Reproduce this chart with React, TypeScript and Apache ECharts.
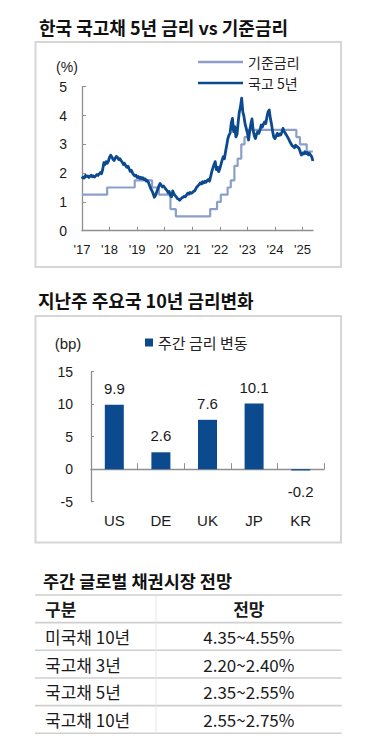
import React, { useEffect, useRef } from 'react';
import * as echarts from 'echarts';

// ---------- texts ----------
const TITLE_1 = '한국 국고채 5년 금리 vs 기준금리';
const TITLE_2 = '지난주 주요국 10년 금리변화';
const TITLE_3 = '주간 글로벌 채권시장 전망';
const UNIT_1 = '(%)';
const UNIT_2 = '(bp)';
const BASE_NAME = '기준금리';
const KTB_NAME = '국고 5년';
const BAR_NAME = '주간 금리 변동';

// ---------- chart 1: axis ticks ----------
const yearTicks = [2017, 2018, 2019, 2020, 2021, 2022, 2023, 2024, 2025];
const xStart = 2017;
const xEnd = 2025.38;

// ---------- chart 1: KTB 5Y yield, semi-monthly readings (%) ----------
const ktb5y2017 = [1.80, 1.86, 1.83, 1.92, 1.88, 1.90, 1.85, 1.89, 1.93, 1.87, 1.90, 1.86, 1.91, 1.95, 1.92, 1.97, 2.02, 1.98, 2.12, 2.36, 2.30, 2.40, 2.34, 2.42];
const ktb5y2018 = [2.55, 2.62, 2.56, 2.48, 2.44, 2.52, 2.58, 2.54, 2.47, 2.50, 2.43, 2.38, 2.30, 2.34, 2.26, 2.20, 2.24, 2.15, 2.06, 2.10, 2.00, 1.94, 1.90, 1.93];
const ktb5y2019 = [1.85, 1.88, 1.82, 1.86, 1.80, 1.84, 1.78, 1.80, 1.72, 1.74, 1.66, 1.55, 1.45, 1.38, 1.28, 1.16, 1.22, 1.34, 1.45, 1.56, 1.64, 1.58, 1.52, 1.55];
const ktb5y2020 = [1.50, 1.44, 1.40, 1.32, 1.36, 1.22, 1.18, 1.38, 1.28, 1.22, 1.18, 1.12, 1.10, 1.06, 1.10, 1.14, 1.16, 1.20, 1.18, 1.24, 1.30, 1.27, 1.33, 1.30];
const ktb5y2021 = [1.32, 1.36, 1.38, 1.45, 1.52, 1.56, 1.60, 1.66, 1.62, 1.70, 1.66, 1.72, 1.68, 1.74, 1.78, 1.72, 1.88, 2.05, 2.18, 2.30, 2.40, 2.12, 2.20, 2.05];
const ktb5y2022 = [2.16, 2.30, 2.45, 2.57, 2.50, 2.75, 2.97, 3.20, 3.32, 3.40, 3.75, 3.90, 3.44, 3.61, 3.26, 3.35, 3.78, 4.13, 4.30, 4.60, 4.13, 3.97, 3.70, 3.55];
const ktb5y2023 = [3.40, 3.15, 3.45, 3.70, 3.88, 3.50, 3.30, 3.20, 3.35, 3.44, 3.38, 3.50, 3.67, 3.60, 3.70, 3.78, 3.72, 3.95, 4.13, 4.19, 3.90, 3.70, 3.44, 3.25];
const ktb5y2024 = [3.20, 3.28, 3.38, 3.30, 3.36, 3.32, 3.42, 3.55, 3.45, 3.38, 3.32, 3.25, 3.18, 3.09, 3.02, 2.95, 2.92, 2.88, 2.97, 2.93, 2.90, 2.86, 2.74, 2.63];
const ktb5y2025 = [2.70, 2.66, 2.74, 2.68, 2.72, 2.64, 2.69, 2.62, 2.57, 2.42];
const ktbYears = [ktb5y2017, ktb5y2018, ktb5y2019, ktb5y2020, ktb5y2021, ktb5y2022, ktb5y2023, ktb5y2024, ktb5y2025];
const ktbStepsPerYear = 24;

// ---------- chart 1: BOK base rate (change dates / levels) ----------
const baseRateDates = ['2017-01-01', '2017-11-30', '2018-11-30', '2019-07-18', '2019-10-16', '2020-03-17', '2020-05-28', '2021-08-26', '2021-11-25', '2022-01-14', '2022-04-14', '2022-05-26', '2022-07-13', '2022-08-25', '2022-10-12', '2022-11-24', '2023-01-13', '2024-10-11', '2024-11-28', '2025-02-25', '2025-05-18'];
const baseRateValues = [1.25, 1.50, 1.75, 1.50, 1.25, 0.75, 0.50, 0.75, 1.00, 1.25, 1.50, 1.75, 2.25, 2.50, 3.00, 3.25, 3.50, 3.25, 3.00, 2.75, 2.75];

// ---------- chart 2 ----------
const countries = ['US', 'DE', 'UK', 'JP', 'KR'];
const weeklyChange = [9.9, 2.6, 7.6, 10.1, -0.2];

// ---------- table ----------
const tableHeader = ['구분', '전망'];
const tableItems = ['미국채 10년', '국고채 3년', '국고채 5년', '국고채 10년'];
const tableRanges = ['4.35~4.55%', '2.20~2.40%', '2.35~2.55%', '2.55~2.75%'];

// ---------- styles ----------
const KR = "'Noto Sans CJK KR', 'Noto Sans', sans-serif";
const LATIN = "'Liberation Sans Narrow', 'Arial Narrow', 'Liberation Sans', Arial, sans-serif";
const DARK = '#0b4a8f';
const LIGHT = '#8c9fcb';
const AXIS = '#8f8f8f';
const TEXT = '#1a1a1a';

function toDecimalYear(s: string): number {
  const [y, m, d] = s.split('-').map(Number);
  const t = Date.UTC(y, m - 1, d);
  const a = Date.UTC(y, 0, 1);
  const b = Date.UTC(y + 1, 0, 1);
  return y + (t - a) / (b - a);
}

export default function App() {
  const ref = useRef<HTMLDivElement>(null);

  useEffect(() => {
    if (!ref.current) return;
    const chart = echarts.init(ref.current, undefined, { renderer: 'svg' });

    const ktbData: [number, number][] = [];
    ktbYears.forEach((arr, yi) => {
      arr.forEach((v, k) => {
        ktbData.push([xStart + yi + k / ktbStepsPerYear, v]);
      });
    });
    const baseData = baseRateDates.map((d, i) => [toDecimalYear(d), baseRateValues[i]]);

    // table geometry
    const tLeft = 35;
    const tRight = 341.7;
    const tTop = 595;
    const rowH = 27.66;
    const colDiv = 156;
    const nRows = tableItems.length + 1;
    const tableGraphics: any[] = [];
    for (let r = 0; r <= nRows; r++) {
      const y = tTop + r * rowH;
      tableGraphics.push({
        type: 'line',
        shape: { x1: tLeft, y1: y, x2: tRight, y2: y },
        style: { stroke: '#cfcfcf', lineWidth: 1.6 },
      });
    }
    tableGraphics.push({
      type: 'line',
      shape: { x1: colDiv, y1: tTop, x2: colDiv, y2: tTop + nRows * rowH },
      style: { stroke: '#e6e6e6', lineWidth: 1 },
    });
    tableGraphics.push({
      type: 'text', x: 45, y: tTop + rowH / 2,
      style: { text: tableHeader[0], fontSize: 17, fontWeight: 'bold', fontFamily: KR, fill: TEXT, align: 'left', verticalAlign: 'middle' },
    });
    tableGraphics.push({
      type: 'text', x: (colDiv + tRight) / 2, y: tTop + rowH / 2,
      style: { text: tableHeader[1], fontSize: 17, fontWeight: 'bold', fontFamily: KR, fill: TEXT, align: 'center', verticalAlign: 'middle' },
    });
    tableItems.forEach((item, i) => {
      const cy = tTop + (i + 1.5) * rowH;
      tableGraphics.push({
        type: 'text', x: 45, y: cy,
        style: { text: item, fontSize: 17, fontFamily: KR, fill: TEXT, align: 'left', verticalAlign: 'middle' },
      });
      tableGraphics.push({
        type: 'text', x: (colDiv + tRight) / 2, y: cy,
        style: { text: tableRanges[i], fontSize: 17, fontFamily: KR, fill: TEXT, align: 'center', verticalAlign: 'middle' },
      });
    });

    const option: any = {
      animation: false,
      backgroundColor: '#ffffff',
      grid: [
        { left: 82, top: 86.7, width: 231, height: 144, containLabel: false },
        { left: 91, top: 371.7, width: 233, height: 130, containLabel: false },
      ],
      legend: [
        {
          data: [
            { name: BASE_NAME, icon: 'rect' },
            { name: KTB_NAME, icon: 'rect' },
          ],
          orient: 'vertical',
          left: 198,
          top: 55,
          padding: 0,
          itemWidth: 45,
          itemHeight: 2.5,
          itemGap: 7,
          selectedMode: false,
          textStyle: { fontSize: 14, fontFamily: KR, color: '#222' },
        },
        {
          data: [{ name: BAR_NAME, icon: 'rect' }],
          left: 145,
          top: 335,
          padding: 0,
          itemWidth: 8,
          itemHeight: 8,
          selectedMode: false,
          textStyle: { fontSize: 15, fontFamily: KR, color: '#222' },
        },
      ],
      xAxis: [
        {
          type: 'value',
          gridIndex: 0,
          min: xStart,
          max: xEnd,
          interval: 1,
          axisLine: { show: true, lineStyle: { color: AXIS, width: 1.3 } },
          axisTick: { show: true, inside: true, length: 4, customValues: yearTicks, lineStyle: { color: AXIS } },
          axisLabel: {
            customValues: yearTicks,
            margin: 12,
            fontSize: 13,
            fontFamily: LATIN,
            color: TEXT,
            formatter: (v: number) => (Math.abs(v - Math.round(v)) < 1e-6 ? "'" + String(Math.round(v)).slice(2) : ''),
          },
          splitLine: { show: false },
        },
        {
          type: 'category',
          gridIndex: 1,
          data: countries,
          axisLine: { show: true, onZero: true, lineStyle: { color: AXIS, width: 1.3 } },
          axisTick: { show: true, inside: true, length: 6, lineStyle: { color: AXIS } },
          axisLabel: { margin: 11, fontSize: 15, fontFamily: LATIN, color: TEXT },
          splitLine: { show: false },
        },
      ],
      yAxis: [
        {
          type: 'value',
          gridIndex: 0,
          min: 0,
          max: 5,
          interval: 1,
          axisLine: { show: true, lineStyle: { color: AXIS, width: 1.3 } },
          axisTick: { show: true, inside: true, length: 4, lineStyle: { color: AXIS } },
          axisLabel: { margin: 15, fontSize: 14, fontFamily: LATIN, color: TEXT },
          splitLine: { show: false },
        },
        {
          type: 'value',
          gridIndex: 1,
          min: -5,
          max: 15,
          interval: 5,
          axisLine: { show: true, lineStyle: { color: AXIS, width: 1.3 } },
          axisTick: { show: true, inside: true, length: 3, lineStyle: { color: AXIS } },
          axisLabel: { margin: 18, fontSize: 14, fontFamily: LATIN, color: TEXT },
          splitLine: { show: false },
        },
      ],
      series: [
        {
          name: BASE_NAME,
          type: 'line',
          xAxisIndex: 0,
          yAxisIndex: 0,
          step: 'end',
          data: baseData,
          showSymbol: false,
          symbol: 'none',
          color: LIGHT,
          lineStyle: { color: LIGHT, width: 2.2 },
          itemStyle: { color: LIGHT },
          z: 2,
        },
        {
          name: KTB_NAME,
          type: 'line',
          xAxisIndex: 0,
          yAxisIndex: 0,
          data: ktbData,
          showSymbol: false,
          symbol: 'none',
          color: DARK,
          lineStyle: { color: DARK, width: 2.8, join: 'round' },
          itemStyle: { color: DARK },
          z: 3,
        },
        {
          name: BAR_NAME,
          type: 'bar',
          xAxisIndex: 1,
          yAxisIndex: 1,
          barWidth: 19,
          color: DARK,
          itemStyle: { color: DARK },
          label: {
            show: true,
            position: 'top',
            distance: 9,
            fontSize: 15,
            fontFamily: LATIN,
            color: TEXT,
          },
          data: weeklyChange.map((v) =>
            v < 0 ? { value: v, label: { position: 'bottom', distance: 13 } } : v
          ),
        },
      ],
      graphic: [
        {
          type: 'rect',
          shape: { x: 35.5, y: 42, width: 305.5, height: 225 },
          style: { fill: 'none', stroke: '#d6d6d6', lineWidth: 2 },
          z: -1,
        },
        {
          type: 'rect',
          shape: { x: 35.5, y: 316, width: 305.5, height: 226.5 },
          style: { fill: 'none', stroke: '#d6d6d6', lineWidth: 2 },
          z: -1,
        },
        {
          type: 'text', x: 39, y: 27,
          style: { text: TITLE_1, fontSize: 18, fontWeight: 'bold', fontFamily: KR, fill: '#111', align: 'left', verticalAlign: 'middle' },
        },
        {
          type: 'text', x: 38, y: 300,
          style: { text: TITLE_2, fontSize: 18, fontWeight: 'bold', fontFamily: KR, fill: '#111', align: 'left', verticalAlign: 'middle' },
        },
        {
          type: 'text', x: 43, y: 580.5,
          style: { text: TITLE_3, fontSize: 17.5, fontWeight: 'bold', fontFamily: KR, fill: '#111', align: 'left', verticalAlign: 'middle' },
        },
        {
          type: 'text', x: 67, y: 67,
          style: { text: UNIT_1, fontSize: 14, fontFamily: LATIN, fill: TEXT, align: 'center', verticalAlign: 'middle' },
        },
        {
          type: 'text', x: 68, y: 343,
          style: { text: UNIT_2, fontSize: 15, fontFamily: LATIN, fill: TEXT, align: 'center', verticalAlign: 'middle' },
        },
        ...tableGraphics,
      ],
    };

    chart.setOption(option);
    return () => {
      chart.dispose();
    };
  }, []);

  return (
    <div
      ref={ref}
      style={{ position: 'absolute', left: 0, top: 0, width: 375, height: 746, background: '#fff' }}
    />
  );
}
